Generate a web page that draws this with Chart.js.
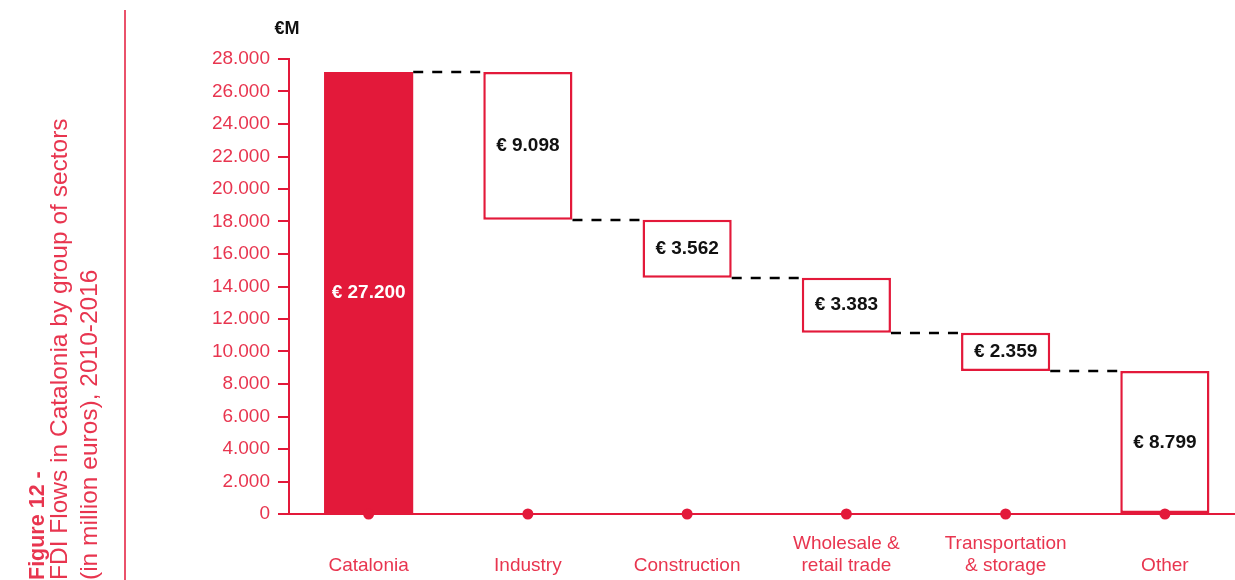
<!DOCTYPE html>
<html>
<head>
<meta charset="utf-8">
<script src="https://cdn.jsdelivr.net/npm/chart.js@4.4.1/dist/chart.umd.min.js"></script>
<style>
  html, body { margin: 0; padding: 0; background: #ffffff; overflow: hidden; }
  #wrap { position: relative; width: 1250px; height: 580px; }
</style>
</head>
<body>
<div id="wrap"><canvas id="c" width="1250" height="580"></canvas></div>
<script>
// ---- data ----
const categories = ['Catalonia', 'Industry', 'Construction', 'Wholesale & retail trade', 'Transportation & storage', 'Other'];
const xTickLines = [['Catalonia'], ['Industry'], ['Construction'], ['Wholesale &', 'retail trade'], ['Transportation', '& storage'], ['Other']];
const amounts = [27200, 9098, 3562, 3383, 2359, 8799];
const kinds = ['total', 'decrease', 'decrease', 'decrease', 'decrease', 'total'];
const yMin = 0;
const yMax = 28000;
const yStep = 2000;
const unitLabel = '€M';
const titleLines = ['Figure 12 -', 'FDI Flows in Catalonia by group of sectors', '(in million euros), 2010-2016'];

// ---- derived floating ranges ----
const ranges = [];
const levels = [];
let running = 0;
amounts.forEach((a, i) => {
  if (kinds[i] === 'total') { ranges.push([0, a]); running = a; }
  else { ranges.push([running - a, running]); running -= a; }
  levels.push(running);
});

const RED = '#e3193a';
const TXT_RED = '#e8354f';
const FONT = "'Liberation Sans', Arial, Helvetica, sans-serif";

function fmt(v) {
  return String(v).replace(/\B(?=(\d{3})+(?!\d))/g, '.');
}

const decor = {
  id: 'decor',
  afterDatasetsDraw(chart) {
    const ctx = chart.ctx;
    const ys = chart.scales.y;
    const meta = chart.getDatasetMeta(1);
    // connectors
    ctx.save();
    ctx.strokeStyle = '#000';
    ctx.lineWidth = 2.5;
    ctx.setLineDash([10, 9]);
    for (let i = 0; i < meta.data.length - 1; i++) {
      const a = meta.data[i], b = meta.data[i + 1];
      const y = Math.round(ys.getPixelForValue(levels[i]));
      ctx.beginPath();
      ctx.moveTo(a.x + a.width / 2, y);
      ctx.lineTo(b.x - b.width / 2, y);
      ctx.stroke();
    }
    ctx.restore();
    // value labels
    ctx.save();
    ctx.font = "bold 19px " + FONT;
    ctx.textAlign = 'center';
    ctx.textBaseline = 'middle';
    meta.data.forEach((el, i) => {
      const r = ranges[i];
      const y = ys.getPixelForValue((r[0] + r[1]) / 2);
      ctx.fillStyle = i === 0 ? '#ffffff' : '#111111';
      ctx.fillText('€ ' + fmt(amounts[i]), el.x, y);
    });
    ctx.restore();
  },
  afterDraw(chart) {
    const ctx = chart.ctx;
    ctx.save();
    // unit label
    ctx.font = "bold 18px " + FONT;
    ctx.fillStyle = '#111';
    ctx.textAlign = 'center';
    ctx.textBaseline = 'middle';
    ctx.fillText(unitLabel, 287, 29);
    // vertical rule
    ctx.strokeStyle = RED;
    ctx.lineWidth = 1.5;
    ctx.beginPath();
    ctx.moveTo(125, 10);
    ctx.lineTo(125, 580);
    ctx.stroke();
    // rotated title
    ctx.fillStyle = TXT_RED;
    ctx.textAlign = 'left';
    ctx.textBaseline = 'alphabetic';
    const xs = [44, 67, 97];
    const sizes = [21.5, 24.5, 24.5];
    titleLines.forEach((t, i) => {
      ctx.save();
      ctx.translate(xs[i], 580);
      ctx.rotate(-Math.PI / 2);
      ctx.font = (i === 0 ? 'bold ' : '') + sizes[i] + 'px ' + FONT;
      ctx.fillText(t, 0, 0);
      ctx.restore();
    });
    ctx.restore();
  }
};

new Chart(document.getElementById('c'), {
  type: 'bar',
  data: {
    labels: categories,
    datasets: [
      {
        type: 'line',
        data: categories.map(() => 0),
        showLine: false,
        pointRadius: 5.5,
        pointBackgroundColor: RED,
        pointBorderColor: RED,
        pointBorderWidth: 0,
        clip: false,
        order: 0
      },
      {
        type: 'bar',
        data: ranges,
        backgroundColor: kinds.map((k, i) => i === 0 ? RED : '#ffffff'),
        borderColor: RED,
        borderWidth: kinds.map((k, i) => i === 0 ? 0 : 2.5),
        borderSkipped: false,
        categoryPercentage: 1,
        barPercentage: 0.56,
        order: 1
      }
    ]
  },
  options: {
    responsive: false,
    animation: false,
    devicePixelRatio: 1,
    layout: { padding: { left: 140, top: 59, right: 1, bottom: 0 } },
    plugins: { legend: { display: false }, tooltip: { enabled: false } },
    scales: {
      x: {
        grid: { display: false, drawTicks: false },
        border: { display: true, color: RED, width: 2 },
        ticks: {
          autoSkip: false,
          maxRotation: 0,
          padding: 18,
          color: TXT_RED,
          font: { family: FONT, size: 19, lineHeight: 1.2 },
          callback: (v, i) => xTickLines[i].length === 1 ? ['', xTickLines[i][0]] : xTickLines[i]
        },
        afterFit: (s) => { s.height = 66; }
      },
      y: {
        min: yMin,
        max: yMax,
        grid: { drawOnChartArea: false, drawTicks: true, tickLength: 11, color: RED, lineWidth: 2 },
        border: { display: true, color: RED, width: 2 },
        ticks: {
          stepSize: yStep,
          padding: 8,
          color: TXT_RED,
          font: { family: FONT, size: 19 },
          callback: (v) => fmt(v)
        },
        afterFit: (s) => { s.width = 149; }
      }
    }
  },
  plugins: [decor]
});
</script>
</body>
</html>
